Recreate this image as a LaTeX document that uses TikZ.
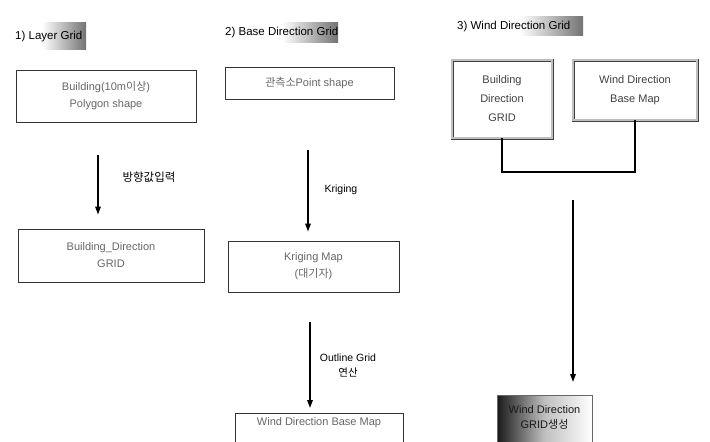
\documentclass[tikz,border=0pt]{standalone}
\usepackage{fontspec}
\setmainfont{Liberation Sans}
\newfontfamily\kr{Noto Sans CJK KR}
\usetikzlibrary{arrows.meta,shadings}
\tikzset{
  box/.style={draw=black!80, line width=0.9pt, rectangle, align=center, text=black!60, font=\fontsize{11}{17}\selectfont, inner sep=0pt},
  dbox/.style={draw=black!75, double=black!25, double distance=1.6pt, line width=0.7pt, rectangle, align=center, text=black!75, font=\fontsize{11}{19}\selectfont, inner sep=0pt},
  txt/.style={align=center, font=\fontsize{11}{15}\selectfont, inner sep=0pt, anchor=north},
  arr/.style={draw=black, line width=1.6pt, -{Triangle[length=8pt,width=5.5pt]}},
  lbl/.style={font=\fontsize{10.5}{15}\selectfont, text=black, align=center, inner sep=0pt},
  ttl/.style={font=\fontsize{11.5}{14}\selectfont, text=black, anchor=west, inner sep=0pt},
  shd/.style={left color=white, right color=black!55, draw=none}
}
\begin{document}
\begin{tikzpicture}[x=1pt,y=-1pt]
\useasboundingbox (0,0) rectangle (710,442);
% title shadings
\shade[shd] (42,22) rectangle (86,49);
\shade[shd] (282,22) rectangle (338,42);
\shade[shd] (520,16) rectangle (583,35);
% titles
\node[ttl] (t1) at (15,37) {1) Layer Grid};
\node[ttl] (t2) at (225,33) {2) Base Direction Grid};
\node[ttl] (t3) at (457,27) {3) Wind Direction Grid};
% column 1
\node[box, minimum width=180, minimum height=52] (b1) at (106,96) {Building(10m{\kr 이상})\\Polygon shape};
\node[box, minimum width=186, minimum height=53] (b2) at (111,255.5) {Building\_Direction\\GRID};
\draw[arr, shorten <=33pt, shorten >=14pt] ([xshift=-8pt]b1.south) -- ([xshift=-13pt]b2.north);
\node[lbl, font=\fontsize{11.5}{15}\selectfont] (l1) at (149,177) {\kr 방향값입력};
% column 2
\node[box, minimum width=169, minimum height=32] (b3) at (309.5,83) {{\kr 관측소}Point shape};
\node[box, minimum width=171, minimum height=51] (b4) at (313.5,266.5) {Kriging Map\\({\kr 대기자})};
\node[box, anchor=north, minimum width=168, minimum height=60] (b5) at (319,413) {};
\node[txt, text=black!60] (b5t) at ([yshift=-4pt]b5.north) {Wind Direction Base Map};
\draw[arr, shorten <=51pt, shorten >=9pt] ([xshift=-1.5pt]b3.south) -- ([xshift=-5.5pt]b4.north);
\draw[arr, shorten <=30pt, shorten >=5pt] ([xshift=-3.5pt]b4.south) -- ([xshift=-9pt]b5.north);
\node[lbl] (l2) at (341,190) {Kriging};
\node[lbl] (l3) at (348,365) {Outline Grid\\{\kr 연산}};
% column 3
\node[dbox, minimum width=100, minimum height=78] (b6) at (502,99) {Building\\Direction\\GRID};
\node[dbox, minimum width=124, minimum height=60] (b7) at (635,90) {Wind Direction\\Base Map};
\coordinate (jn) at (570,172);
\draw[line width=1.5pt] (b6.south) |- (jn) -| (b7.south);
\coordinate (a4s) at (573,200);
\node[box, anchor=north, minimum width=95, minimum height=70, left color=black!90, right color=white, middle color=black!25, draw=black!60, line width=0.6pt] (b8) at (544.5,395) {};
\node[txt, text=black!90] (b8t) at ([yshift=-10pt]b8.north) {Wind Direction\\GRID{\kr 생성}};
\draw[arr, shorten >=13pt] (a4s) -- (a4s |- b8.north);
\end{tikzpicture}
\end{document}
